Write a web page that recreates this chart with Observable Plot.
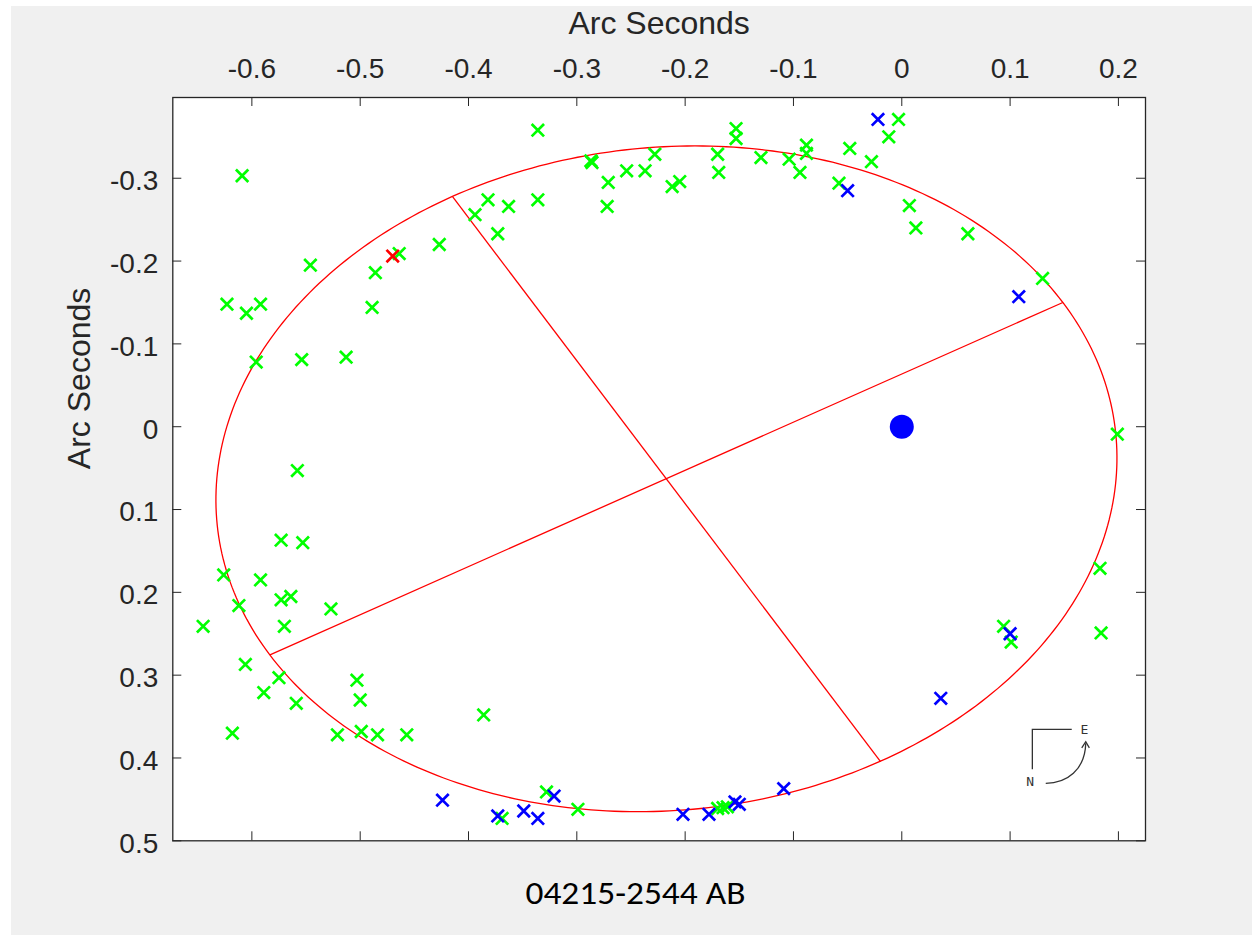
<!DOCTYPE html>
<html><head><meta charset="utf-8">
<script src="https://cdn.jsdelivr.net/npm/d3@7"></script>
<script src="https://cdn.jsdelivr.net/npm/@observablehq/plot@0.6"></script>
<style>
html,body{margin:0;padding:0;background:#fff;}
#wrap{position:absolute;left:11px;top:6px;width:1241px;height:929px;background:#f0f0f0;overflow:hidden;}
</style></head><body><div id="wrap"></div>
<script>
// ---- data (arc seconds) ----
const xTicks = [-0.6, -0.5, -0.4, -0.3, -0.2, -0.1, 0, 0.1, 0.2];
const yTicks = [-0.3, -0.2, -0.1, 0, 0.1, 0.2, 0.3, 0.4, 0.5];
const xDomain = [-0.673, 0.225];
const yDomain = [0.5, -0.3975];

const greenX = [-0.336,-0.609,-0.382,-0.363,-0.336,-0.394,-0.373,-0.427,-0.464,-0.486,-0.546,-0.623,-0.605,-0.592,-0.489,-0.596,-0.554,-0.513,-0.558,-0.573,-0.553,-0.626,-0.592,-0.573,-0.564,-0.612,-0.527,-0.645,-0.570,-0.606,-0.575,-0.589,-0.559,-0.503,-0.500,-0.618,-0.521,-0.499,-0.484,-0.457,-0.386,-0.369,-0.328,-0.299,-0.170,-0.165,-0.161,0.199,0.183,0.094,0.101,0.184,-0.287,-0.286,-0.271,-0.272,-0.254,-0.237,-0.228,-0.212,-0.205,-0.170,-0.169,-0.153,-0.153,-0.130,-0.104,-0.088,-0.088,-0.094,-0.058,-0.048,-0.028,-0.003,-0.012,0.007,0.013,0.061,0.130];
const greenY = [-0.358,-0.303,-0.274,-0.266,-0.274,-0.256,-0.233,-0.220,-0.209,-0.186,-0.195,-0.148,-0.137,-0.148,-0.144,-0.078,-0.081,-0.084,0.053,0.137,0.140,0.179,0.185,0.209,0.205,0.216,0.220,0.241,0.241,0.287,0.303,0.321,0.334,0.306,0.330,0.370,0.372,0.368,0.372,0.372,0.348,0.473,0.441,0.462,0.461,0.460,0.459,0.009,0.171,0.241,0.260,0.249,-0.321,-0.319,-0.295,-0.266,-0.309,-0.309,-0.329,-0.290,-0.296,-0.329,-0.307,-0.360,-0.348,-0.325,-0.323,-0.340,-0.330,-0.307,-0.294,-0.336,-0.320,-0.371,-0.350,-0.267,-0.240,-0.233,-0.179];

const blueX = [-0.424,-0.373,-0.349,-0.336,-0.321,-0.202,-0.178,-0.154,-0.150,-0.109,0.036,0.100,-0.050,-0.022,0.108];
const blueY = [0.451,0.470,0.464,0.473,0.446,0.468,0.468,0.453,0.456,0.437,0.328,0.250,-0.285,-0.371,-0.157];

const redX = [-0.470];
const redY = [-0.206];

const primaryX = [0];
const primaryY = [0];

// orbit ellipse axes (endpoints)
const majorAxisX = [-0.5833, 0.1487];
const majorAxisY = [0.2754, -0.1500];
const minorAxisX = [-0.4149, -0.0196];
const minorAxisY = [-0.2780, 0.4043];

const title = "04215-2544 AB";
const axisLabel = "Arc Seconds";

// ---- derived tables ----
const zip = (xs, ys) => xs.map((x, i) => ({x, y: ys[i]}));
const green = zip(greenX, greenY);
const blue = zip(blueX, blueY);
const red = zip(redX, redY);
const primary = zip(primaryX, primaryY);

const cx = (majorAxisX[0] + majorAxisX[1] + minorAxisX[0] + minorAxisX[1]) / 4;
const cy = (majorAxisY[0] + majorAxisY[1] + minorAxisY[0] + minorAxisY[1]) / 4;
const ux = majorAxisX[1] - cx, uy = majorAxisY[1] - cy;
const vx = minorAxisX[0] - cx, vy = minorAxisY[0] - cy;
const ellipse = d3.range(0, 361).map(k => {
  const t = k * Math.PI / 180;
  return {x: cx + Math.cos(t) * ux + Math.sin(t) * vx, y: cy + Math.cos(t) * uy + Math.sin(t) * vy};
});
const axesSegs = [
  {x1: majorAxisX[0], y1: majorAxisY[0], x2: majorAxisX[1], y2: majorAxisY[1]},
  {x1: minorAxisX[0], y1: minorAxisY[0], x2: minorAxisX[1], y2: minorAxisY[1]}
];

// ---- layout ----
const W = 1241, H = 929;
const mL = 161.3, mT = 91, mR = 107, mB = 94.7;
const innerW = W - mL - mR, innerH = H - mT - mB;
const TL = 9;
const ink = "#262626";
const font = "'Liberation Sans', Arial, Helvetica, sans-serif";
const fmt = d => d === 0 ? "0" : String(+d.toFixed(1));
const MR = 5.7, MW = 2.7;

const plot = Plot.plot({
  width: W, height: H,
  marginLeft: mL, marginTop: mT, marginRight: mR, marginBottom: mB,
  style: {background: "transparent", color: ink, fontFamily: font, overflow: "visible"},
  x: {domain: xDomain, axis: null},
  y: {domain: yDomain, axis: null},
  marks: [
    Plot.frame({fill: "white", stroke: "none"}),
    Plot.line(ellipse, {x: "x", y: "y", stroke: "#ff0000", strokeWidth: 1.3}),
    Plot.link(axesSegs, {x1: "x1", y1: "y1", x2: "x2", y2: "y2", stroke: "#ff0000", strokeWidth: 1.3}),
    Plot.dot(green, {x: "x", y: "y", symbol: "times", r: MR, stroke: "#00ff00", strokeWidth: MW}),
    Plot.dot(blue, {x: "x", y: "y", symbol: "times", r: MR, stroke: "#0000ff", strokeWidth: MW}),
    Plot.dot(red, {x: "x", y: "y", symbol: "times", r: MR, stroke: "#ff0000", strokeWidth: MW}),
    Plot.dot(primary, {x: "x", y: "y", r: 12, fill: "#0000ff", stroke: "none"}),
    // inward ticks on all four sides
    Plot.tickX(xTicks, {x: d => d, insetBottom: innerH - TL, stroke: ink, strokeWidth: 1}),
    Plot.tickX(xTicks, {x: d => d, insetTop: innerH - TL, stroke: ink, strokeWidth: 1}),
    Plot.tickY(yTicks, {y: d => d, insetRight: innerW - TL, stroke: ink, strokeWidth: 1}),
    Plot.tickY(yTicks, {y: d => d, insetLeft: innerW - TL, stroke: ink, strokeWidth: 1}),
    Plot.frame({stroke: ink, strokeWidth: 1.3}),
    // tick labels
    Plot.axisX({anchor: "top", ticks: xTicks, tickSize: 0, tickPadding: 20, tickFormat: fmt, fontSize: 28, label: null, fill: ink}),
    Plot.axisY({anchor: "left", ticks: yTicks, tickSize: 0, tickPadding: 14.5, dy: 3, tickFormat: fmt, fontSize: 28, label: null, fill: ink}),
    // axis titles
    Plot.text([axisLabel], {frameAnchor: "top", text: d => d, lineAnchor: "middle", dy: -73.7, fontSize: 32, fill: ink}),
    Plot.text([axisLabel], {frameAnchor: "left", text: d => d, lineAnchor: "middle", rotate: -90, dx: -93, fontSize: 32, fill: ink}),
    // caption
    Plot.text([title], {frameAnchor: "bottom", text: d => d, lineAnchor: "bottom", dy: 63, dx: -23.7, fontSize: 33, fill: "#000",
      fontFamily: "Carlito, Calibri, 'Liberation Sans Narrow', 'Noto Sans', sans-serif"})
  ]
});

// fit caption width to the reference
d3.select(plot).selectAll("text").filter(function() { return this.textContent === title; })
  .attr("textLength", 220).attr("lengthAdjust", "spacingAndGlyphs");

// compass rose (N / E indicator), anchored in data space
const sx = plot.scale("x"), sy = plot.scale("y");
const px = sx.apply(0.121), py = sy.apply(0.366);
const g = d3.select(plot).append("g").attr("transform", `translate(${px},${py})`)
  .attr("fill", "none").attr("stroke", "#333").attr("stroke-width", 1.3);
g.append("path").attr("d", "M0,40 V0 H39.4");
g.append("path").attr("d", "M13.4,54 C34.4,54 52.7,40.7 53.4,14");
g.append("path").attr("d", "M49.4,18.5 L53.4,12.4 L57,18.5");
g.append("text").attr("x", 52).attr("y", 0).attr("dy", "0.36em").attr("text-anchor", "middle")
  .attr("stroke", "none").attr("fill", "#333").attr("font-family", "'DejaVu Sans Mono', monospace").attr("font-size", 13).text("E");
g.append("text").attr("x", -2.3).attr("y", 52.4).attr("dy", "0.36em").attr("text-anchor", "middle")
  .attr("stroke", "none").attr("fill", "#333").attr("font-family", "'DejaVu Sans Mono', monospace").attr("font-size", 13).text("N");

document.getElementById("wrap").appendChild(plot);
</script>
</body></html>
